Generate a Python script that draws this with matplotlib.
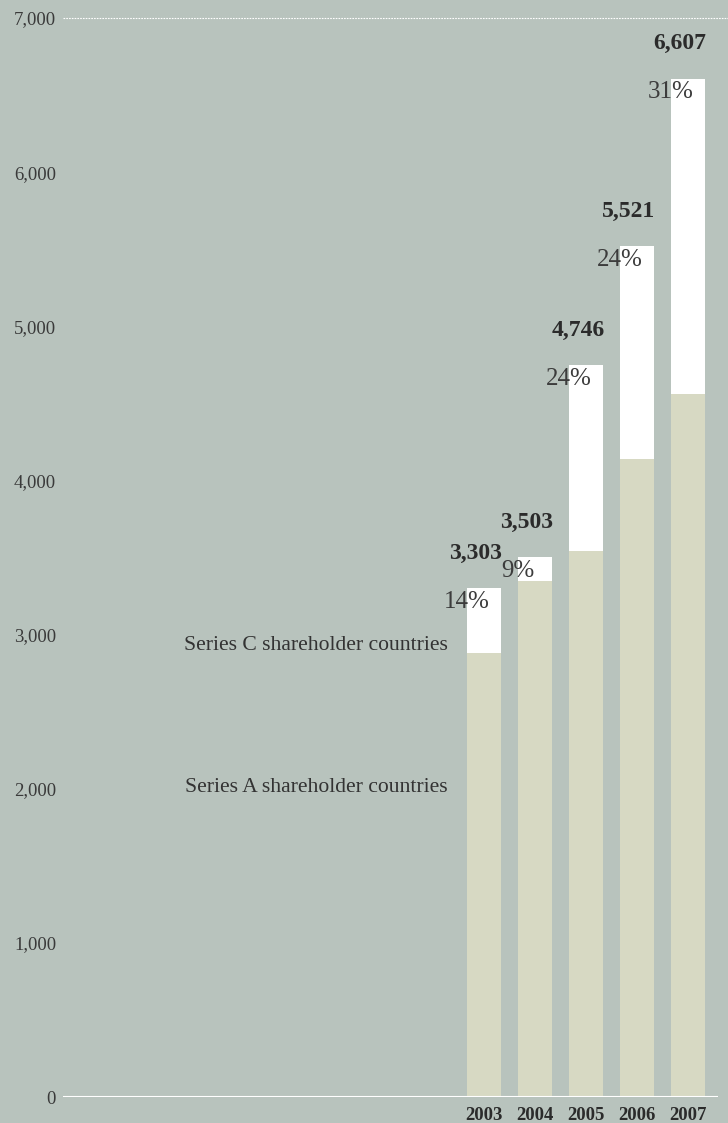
import numpy as np
import matplotlib.pyplot as plt

plt.rcParams['font.family'] = ['Liberation Serif', 'DejaVu Serif']

# capital by year
years = ['2003', '2004', '2005', '2006', '2007']
totals = [3303, 3503, 4746, 5521, 6607]
series_a = [2880, 3350, 3540, 4140, 4560]
shares_c = ['14%', '9%', '24%', '24%', '31%']
yticks = [0, 1000, 2000, 3000, 4000, 5000, 6000, 7000]

bg = '#b8c3bd'
beige = '#d7d9c3'
ink = '#2b2b2b'

fig = plt.figure(figsize=(7.28, 11.23), dpi=100, facecolor=bg)
ax = fig.add_axes([63/728, 26/1123, (718-63)/728, (1097-18)/1123])
ax.set_facecolor(bg)

x = np.arange(len(years))
w = 0.667
series_c = np.array(totals) - np.array(series_a)

ax.bar(x, series_a, width=w, color=beige, linewidth=0)
ax.bar(x, series_c, width=w, bottom=series_a, color='white', linewidth=0)

for xi, tot, pct in zip(x, totals, shares_c):
    ax.annotate(pct, (xi - w/2, tot), xytext=(0, -10), textcoords='offset points',
                ha='center', va='center', fontsize=18, color='#3c3c3c')
    ax.annotate(f'{tot:,}', (xi + w/2, tot), xytext=(1, 25), textcoords='offset points',
                ha='right', va='center', fontsize=17, fontweight='bold', color=ink)

ax.text(-0.71, 2930, 'Series C shareholder countries', ha='right', va='center',
        fontsize=15.6, color='#333333')
ax.text(-0.71, 2005, 'Series A shareholder countries', ha='right', va='center',
        fontsize=15.6, color='#333333')

ax.set_xlim(-8.255, 4.588)
ax.set_ylim(0, 7000)
ax.set_yticks(yticks)
ax.set_yticklabels([f'{v:,}' for v in yticks], fontsize=13.5, color='#3a3a3a')
ax.set_xticks(x)
ax.set_xticklabels(years, fontsize=13.5, fontweight='bold', color=ink)
ax.tick_params(length=0)
ax.tick_params(axis='y', pad=5)
ax.tick_params(axis='x', pad=7)

for s in ax.spines.values():
    s.set_visible(False)
ax.axhline(0, color='white', linewidth=1.5)
ax.axhline(7000, xmin=0, xmax=1.02, color='white', linewidth=0.8,
           linestyle=(0, (1.5, 1)), clip_on=False)

fig.savefig('out.png', dpi=100, facecolor=bg)
